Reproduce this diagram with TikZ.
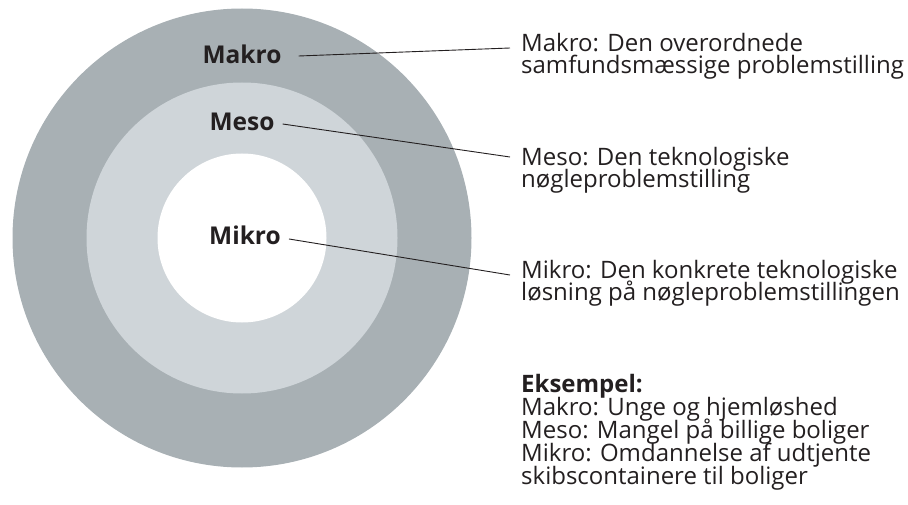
\documentclass[tikz,border=0pt]{standalone}
\usepackage{fontspec}
\setmainfont{Open Sans}
\definecolor{outerring}{RGB}{168,176,180}
\definecolor{middlering}{RGB}{207,213,217}
\definecolor{ink}{RGB}{35,31,32}
\newcommand\mydescfont{\fontsize{24}{22.8}\selectfont\setlength{\lineskiplimit}{-50pt}\setlength{\lineskip}{0pt}}
\begin{document}
\begin{tikzpicture}[x=1pt,y=-1pt,
  ringlabel/.style={font=\fontsize{24.5}{24}\selectfont\bfseries, text=ink, inner sep=0pt},
  desc/.style={font=\mydescfont, text=ink, align=left, inner sep=0pt, anchor=base west},
  leader/.style={draw=ink, line width=0.9pt}]
\useasboundingbox (0,0) rectangle (908,505);
\fill[outerring] (242,238) circle (229.5);
\fill[middlering] (242,238) circle (155.5);
\fill[white] (242,238) circle (84.5);
\node[ringlabel] (makro) at (242,54) {Makro};
\node[ringlabel] (meso) at (242,122) {Meso};
\node[ringlabel] (mikro) at (245,235) {Mikro};
\node[desc] (makrotxt) at (521,74) {Makro: Den overordnede\\samfundsmæssige problemstilling};
\node[desc] (mesotxt) at (521,188) {Meso: Den teknologiske\\nøgleproblemstilling};
\node[desc] (mikrotxt) at (521,301) {Mikro: Den konkrete teknologiske\\løsning på nøgleproblemstillingen};
\node[desc] (eks) at (521,484) {\textbf{Eksempel:}\\Makro: Unge og hjemløshed\\Meso: Mangel på billige boliger\\Mikro: Omdannelse af udtjente\\skibscontainere til boliger};
\coordinate (makroend) at (510,48);
\coordinate (mesoend) at (510,157);
\coordinate (mikroend) at (510,275);
\draw[leader] ([xshift=17pt,yshift=-2pt]makro.east) -- (makroend);
\draw[leader] ([xshift=8pt,yshift=-2pt]meso.east) -- (mesoend);
\draw[leader] ([xshift=8pt,yshift=-4pt]mikro.east) -- (mikroend);
\end{tikzpicture}
\end{document}
